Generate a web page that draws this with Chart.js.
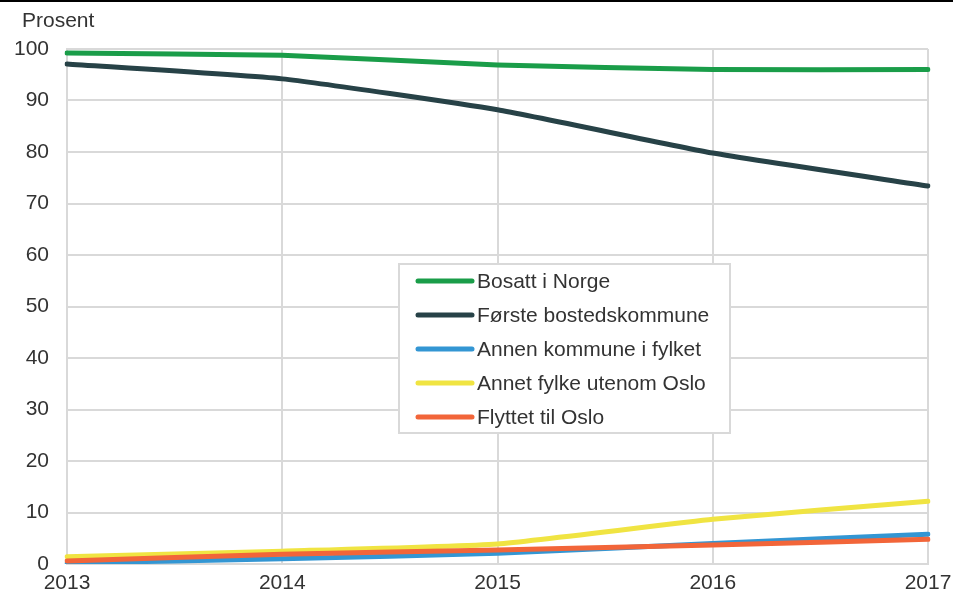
<!DOCTYPE html>
<html lang="no">
<head>
<meta charset="UTF-8">
<title>Prosent</title>
<script src="https://cdn.jsdelivr.net/npm/chart.js"></script>
<style>
    body { margin: 0; background: #fff; }
    .wrap { position: relative; width: 953px; height: 590px; }
    .topline { position: absolute; left: 0; top: 0; width: 953px; height: 2px; background: #000; }
    canvas { display: block; }
</style>
</head>
<body>
<div class="wrap">
    <canvas id="chart" width="953" height="590"></canvas>
    <div class="topline"></div>
</div>
<script>
const years = ["2013", "2014", "2015", "2016", "2017"];
const bosatt = [99.2, 98.8, 96.9, 96.0, 96.0];
const forste = [97.1, 94.2, 88.2, 79.8, 73.4];
const annenKommune = [0.2, 1.0, 2.1, 4.0, 5.8];
const annetFylke = [1.4, 2.5, 3.9, 8.7, 12.2];
const oslo = [0.6, 1.9, 2.7, 3.7, 4.8];
const yTicks = [0, 10, 20, 30, 40, 50, 60, 70, 80, 90, 100];

const font = "'Liberation Sans', Arial, sans-serif";

// legend box drawn inside the plot
const boxLegend = {
    id: "boxLegend",
    afterDraw(chart) {
        const c = chart.ctx;
        const x0 = 399, y0 = 264, w = 331, h = 169;
        c.save();
        c.fillStyle = "#fff";
        c.fillRect(x0, y0, w, h);
        c.strokeStyle = "#d9d9d9";
        c.lineWidth = 2;
        c.strokeRect(x0, y0, w, h);
        c.font = "21px " + font;
        c.textBaseline = "middle";
        const items = chart.data.datasets.slice().sort((a, b) => a.legendIndex - b.legendIndex);
        items.forEach((ds, i) => {
            const y = y0 + 17 + i * 34;
            c.strokeStyle = ds.borderColor;
            c.lineWidth = 5;
            c.lineCap = "round";
            c.beginPath();
            c.moveTo(x0 + 19, y);
            c.lineTo(x0 + 73, y);
            c.stroke();
            c.fillStyle = "#333";
            c.fillText(ds.label, x0 + 78, y + 1);
        });
        c.restore();
    }
};

const unitLabel = {
    id: "unitLabel",
    afterDraw(chart) {
        const c = chart.ctx;
        c.save();
        c.font = "21px " + font;
        c.fillStyle = "#333";
        c.textBaseline = "middle";
        c.fillText("Prosent", 22, 21);
        c.restore();
    }
};

function line(label, data, color, idx, order) {
    return {
        label: label,
        data: data,
        borderColor: color,
        backgroundColor: color,
        borderWidth: 5,
        pointRadius: 0,
        tension: 0.15,
        borderCapStyle: "round",
        fill: false,
        legendIndex: idx,
        order: order
    };
}

new Chart(document.getElementById("chart"), {
    type: "line",
    data: {
        labels: years,
        datasets: [
            line("Bosatt i Norge", bosatt, "#1a9d49", 0, 4),
            line("Første bostedskommune", forste, "#274247", 1, 3),
            line("Annen kommune i fylket", annenKommune, "#3396d3", 2, 2),
            line("Annet fylke utenom Oslo", annetFylke, "#f0e442", 3, 1),
            line("Flyttet til Oslo", oslo, "#f26539", 4, 0)
        ]
    },
    options: {
        responsive: false,
        animation: false,
        layout: { padding: { left: 0, right: 25, top: 49, bottom: 0 } },
        plugins: { legend: { display: false }, tooltip: { enabled: false } },
        scales: {
            x: {
                offset: false,
                grid: { color: "#d9d9d9", lineWidth: 2, drawTicks: false },
                border: { color: "#d9d9d9", width: 2 },
                ticks: { color: "#333", font: { family: font, size: 21 }, padding: 7, maxRotation: 0 },
                afterFit(s) { s.height = 26; s.paddingLeft = 0; s.paddingRight = 0; }
            },
            y: {
                min: 0,
                max: 100,
                afterBuildTicks(s) { s.ticks = yTicks.map(v => ({ value: v })); },
                grid: { color: "#d9d9d9", lineWidth: 2, drawTicks: false },
                border: { color: "#d9d9d9", width: 2 },
                ticks: { color: "#333", font: { family: font, size: 21 }, padding: 18 },
                afterFit(s) { s.width = 67; s.paddingTop = 0; s.paddingBottom = 0; }
            }
        }
    },
    plugins: [unitLabel, boxLegend]
});
</script>
</body>
</html>
